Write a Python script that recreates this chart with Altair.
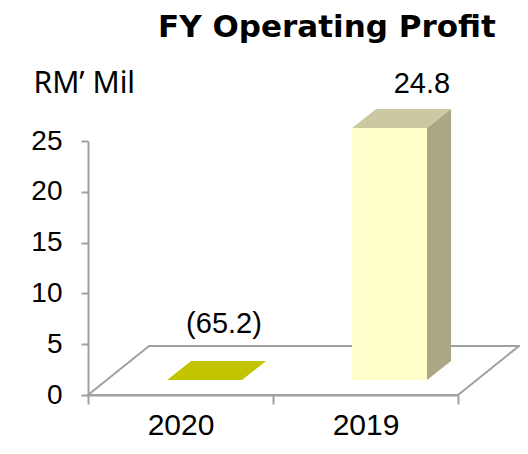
import altair as alt
import pandas as pd

categories = ["2020", "2019"]
values = [-65.2, 24.8]
unit_label = "RM’ Mil"
title_text = "FY Operating Profit"
y_ticks = [0, 5, 10, 15, 20, 25]

# 3D geometry constants (in data units)
BAR_W = 0.405
BAR_OFF = 0.13
DEPTH_X = 0.13
DEPTH_Y = 1.87
BASE = 1.48
FLOOR_DX = 0.33
FLOOR_DY = 4.82
N = len(categories)

FRONT = "#FFFFCC"
TOP_POS = "#CBC9A2"
SIDE = "#A9A784"
NEG = "#C2C400"
GRID = "#A0A0A0"

xscale = alt.Scale(domain=[0, N], nice=False, zero=False)
yscale = alt.Scale(domain=[0, 25], nice=False, zero=False)

floor = pd.DataFrame({"y": [0, FLOOR_DY], "x": [0, FLOOR_DX], "x2": [N, N + FLOOR_DX]})

top_rows, side_rows, front_rows, label_rows = [], [], [], []
for i, (c, v) in enumerate(zip(categories, values)):
    cx = i + 0.5 + BAR_OFF
    h = max(v, 0)
    sign = "pos" if v >= 0 else "neg"
    xl, xr = cx - BAR_W / 2, cx + BAR_W / 2
    top_rows.append({"cat": c, "sign": sign, "y": BASE + h, "x": xl, "x2": xr})
    top_rows.append({"cat": c, "sign": sign, "y": BASE + h + DEPTH_Y, "x": xl + DEPTH_X, "x2": xr + DEPTH_X})
    if h > 0:
        side_rows.append({"cat": c, "x": xr, "y": BASE, "y2": BASE + h})
        side_rows.append({"cat": c, "x": xr + DEPTH_X, "y": BASE + DEPTH_Y, "y2": BASE + h + DEPTH_Y})
        front_rows.append({"cat": c, "x": xl, "x2": xr, "y": BASE, "y2": BASE + h})
    gap = 1.6 if v >= 0 else 2.8
    shift = 0.045 if v >= 0 else -0.025
    txt = f"{v:.1f}" if v >= 0 else f"({abs(v):.1f})"
    label_rows.append({"cat": c, "x": cx + DEPTH_X + shift, "y": BASE + h + DEPTH_Y + gap, "text": txt})

top_df = pd.DataFrame(top_rows)
side_df = pd.DataFrame(side_rows)
front_df = pd.DataFrame(front_rows)
label_df = pd.DataFrame(label_rows)

expr_parts = " : ".join(f"datum.value == {i + 0.5} ? '{c}'" for i, c in enumerate(categories)) + " : ''"
x_axis = alt.Axis(
    values=[k * 0.5 for k in range(2 * N + 1)],
    labelExpr=expr_parts,
    grid=False,
    domainColor=GRID, domainWidth=2,
    tickColor=GRID, tickWidth=2, tickSize=9,
    tickOpacity={"condition": {"test": "datum.value % 1 == 0", "value": 1}, "value": 0},
    labelFont="Liberation Sans", labelFontSize=30, labelColor="black",
    labelPadding=6, labelOverlap=False, title=None,
)
y_axis = alt.Axis(
    values=y_ticks, grid=False,
    domainColor=GRID, domainWidth=2,
    tickColor=GRID, tickWidth=2, tickSize=7,
    labelFont="Liberation Sans", labelFontSize=28, labelColor="black",
    labelPadding=19,
    title=unit_label, titleAngle=0, titleAlign="left", titleBaseline="alphabetic",
    titleX=-55, titleY=-49, titleFont="Noto Sans", titleFontSize=30,
    titleFontWeight="normal", titleColor="black",
)

X = lambda f: alt.X(f, scale=xscale, axis=x_axis)
Y = lambda f: alt.Y(f, scale=yscale, axis=y_axis)

floor_layer = alt.Chart(floor).mark_area(
    orient="horizontal", fill="white", stroke=GRID, strokeWidth=2
).encode(y=Y("y:Q"), x=X("x:Q"), x2="x2:Q")

top_layer = alt.Chart(top_df).mark_area(orient="horizontal").encode(
    y=Y("y:Q"), x=X("x:Q"), x2="x2:Q",
    detail="cat:N",
    color=alt.Color("sign:N", scale=alt.Scale(domain=["pos", "neg"], range=[TOP_POS, NEG]), legend=None),
)

side_layer = alt.Chart(side_df).mark_area(color=SIDE).encode(
    x=X("x:Q"), y=Y("y:Q"), y2="y2:Q", detail="cat:N",
)

front_layer = alt.Chart(front_df).mark_rect(color=FRONT).encode(
    x=X("x:Q"), x2="x2:Q", y=Y("y:Q"), y2="y2:Q",
)

label_layer = alt.Chart(label_df).mark_text(
    font="Liberation Sans", fontSize=29, color="black", baseline="alphabetic", align="center"
).encode(x=X("x:Q"), y=Y("y:Q"), text="text:N")

chart = alt.layer(floor_layer, top_layer, side_layer, front_layer, label_layer).properties(
    width=370, height=254,
    title=alt.TitleParams(
        title_text, font="DejaVu Sans", fontSize=31, fontWeight="bold", color="black",
        anchor="start", frame="group", dx=70, dy=-20,
    ),
    autosize=alt.AutoSizeParams(type="none"),
    padding={"left": 80, "top": 133, "right": 62, "bottom": 49},
).configure_view(stroke=None)

chart.save("out.html", embed_options={"renderer": "svg", "actions": False})
